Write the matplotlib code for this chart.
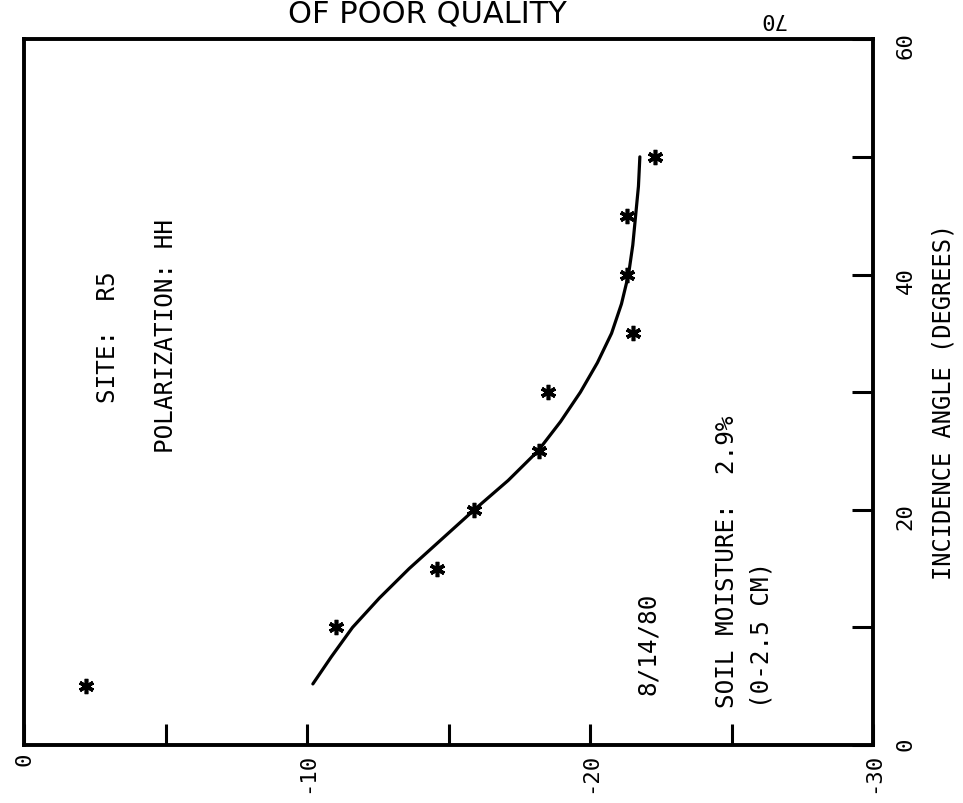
import numpy as np
import matplotlib
matplotlib.use("Agg")
import matplotlib.pyplot as plt

# measured points (incidence angle in degrees, backscatter in dB)
angle_pts = [5, 10, 15, 20, 25, 30, 35, 40, 45, 50]
db_pts = [-2.2, -11.0, -14.6, -15.9, -18.2, -18.5, -21.5, -21.3, -21.3, -22.3]

# fitted curve
angle_fit = [5.2, 7.5, 10, 12.5, 15, 17.5, 20, 22.5, 25, 27.5, 30, 32.5, 35, 37.5, 40, 42.5, 45, 47.5, 50]
db_fit = [-10.2, -10.85, -11.6, -12.55, -13.6, -14.75, -15.9, -17.1, -18.15, -18.95, -19.65, -20.25,
          -20.75, -21.1, -21.35, -21.5, -21.6, -21.7, -21.75]

db_major = [0, -10, -20, -30]
db_minor = [-5, -15, -25]
angle_major = [0, 20, 40, 60]
angle_minor = [10, 30, 50]

FONT = "DejaVu Sans Mono"
plt.rcParams['font.family'] = [FONT, 'DejaVu Sans']

fig = plt.figure(figsize=(9.63, 8.04), dpi=100)
ax = fig.add_axes([0.025, 0.072, 0.882, 0.878])

# the page is turned sideways: dB runs along the bottom, angle up the right side
ax.plot(db_fit, angle_fit, color='black', lw=2.3, solid_capstyle='round',
        solid_joinstyle='round')
ax.plot(db_pts, angle_pts, linestyle='none', marker=(6, 2, 0), markersize=11,
        markeredgewidth=2.6, color='black')

ax.set_xlim(0, -30)
ax.set_ylim(0, 60)

ax.yaxis.tick_right()
ax.set_xticks(db_major)
ax.set_xticks(db_minor, minor=True)
ax.set_yticks(angle_major)
ax.set_yticks(angle_minor, minor=True)
ax.set_xticklabels([str(v) for v in db_major])
ax.set_yticklabels([str(v) for v in angle_major])

for which in ('major', 'minor'):
    ax.tick_params(axis='both', which=which, direction='in', length=15, width=2.2,
                   color='black')
ax.tick_params(axis='x', which='major', labelsize=16, labelrotation=90, pad=5)
ax.tick_params(axis='y', which='major', labelsize=16, labelrotation=90, pad=16,
               right=True, left=False)

for sp in ax.spines.values():
    sp.set_linewidth(2.8)

txt = dict(rotation=90, rotation_mode='anchor', ha='left', va='center',
           fontsize=17.5, color='black')


def put(text, px, py, **kw):
    # px, py are pixel positions from the top-left of the page
    opts = dict(txt)
    opts.update(kw)
    fig.text(px / 963, 1 - py / 804, text, transform=fig.transFigure, **opts)


put("SITE:  R5", 108, 403)
put("POLARIZATION: HH", 166, 453)
put("8/14/80", 648, 695)
put("SOIL MOISTURE:  2.9%", 727, 708)
put("(0-2.5 CM)", 761, 708)
put("INCIDENCE ANGLE (DEGREES)", 943, 402, ha='center', fontsize=17)

fig.text(427 / 963, 1 - 22 / 804, "OF POOR QUALITY", ha='center', va='baseline',
         fontsize=22, family='DejaVu Sans', color='black')
fig.text(772 / 963, 1 - 19 / 804, "70", ha='center', va='center', rotation=180,
         fontsize=16, color='black')

fig.savefig("out.png", dpi=100, facecolor='white')
